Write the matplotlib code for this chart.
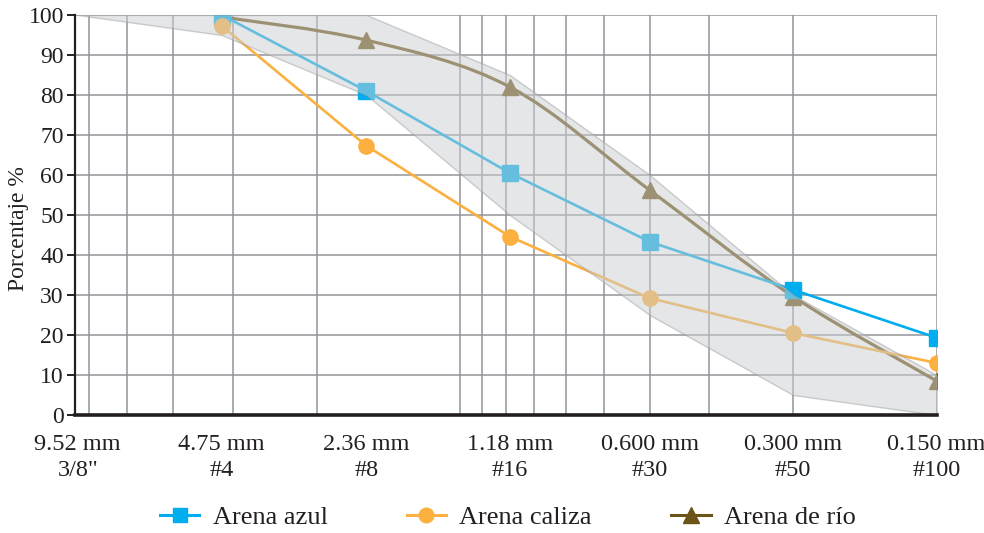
import numpy as np
import matplotlib
matplotlib.use("Agg")
import matplotlib.pyplot as plt
from matplotlib.path import Path
from matplotlib.patches import PathPatch
from matplotlib.lines import Line2D
from matplotlib.ticker import FixedLocator

plt.rcParams['font.family'] = ['Liberation Serif', 'DejaVu Serif']

# sieve sizes (mm) and labels
sieve = [9.52, 4.75, 2.36, 1.18, 0.600, 0.300, 0.150]
sieve_labels = ['9.52 mm\n3/8"', '4.75 mm\n#4', '2.36 mm\n#8', '1.18 mm\n#16',
                '0.600 mm\n#30', '0.300 mm\n#50', '0.150 mm\n#100']

# passing percentages (no value at 9.52 mm)
sand_x = [4.75, 2.36, 1.18, 0.600, 0.300, 0.150]
arena_azul = [100, 81, 60.5, 43.3, 31.3, 19.3]
arena_caliza = [97.3, 67.3, 44.6, 29.2, 20.5, 13.0]
arena_rio = [99.5, 93.7, 82.0, 56.2, 29.6, 8.5]

# gradation limits (shaded band)
band_upper = [100, 100, 100, 85, 60, 30, 10]
band_lower = [100, 95, 80, 50, 25, 5, 0]

c_azul = '#00AEEF'
c_caliza = '#FBB040'
c_rio = '#6B5417'
c_grid = '#939598'
c_text = '#231F20'

fig = plt.figure(figsize=(9.84, 5.33), dpi=100)
ax = fig.add_axes([0.0762, 0.2214, 0.8757, 0.7505])

ax.set_xscale('log')
ax.set_xlim(9.65, 0.15)
ax.set_ylim(0, 100)

# vertical log grid (0.15 .. 1.5 .. 9 mm)
grid_x = [0.15 * k for k in range(1, 11)] + [1.5 * k for k in range(2, 7)]
ax.vlines(grid_x, 0, 100, colors=c_grid, lw=1.1, zorder=1.5)

# river sand: smoothed line (bezier through the points, computed in log-x space)
u = np.log10(sand_x)
y = np.array(arena_rio, dtype=float)
pts = np.column_stack([u, y])
n = len(pts)
verts = [pts[0]]
codes = [Path.MOVETO]
for i in range(n - 1):
    p_prev = pts[max(i - 1, 0)]
    p_next2 = pts[min(i + 2, n - 1)]
    c1 = pts[i] + (pts[i + 1] - p_prev) / 6.0
    c2 = pts[i + 1] - (p_next2 - pts[i]) / 6.0
    verts += [c1, c2, pts[i + 1]]
    codes += [Path.CURVE4] * 3
verts = np.array(verts)
verts[:, 0] = 10 ** verts[:, 0]
ax.add_patch(PathPatch(Path(verts, codes), facecolor='none', edgecolor=c_rio,
                       lw=2.3, zorder=3))
ax.plot(sand_x, arena_rio, ls='none', marker='^', ms=12, color=c_rio, zorder=3)

ax.plot(sand_x, arena_azul, '-', marker='s', ms=11.5, lw=1.9, color=c_azul, zorder=3.1)
ax.plot(sand_x, arena_caliza, '-', marker='o', ms=11, lw=1.9, color=c_caliza, zorder=3.2)

# gradation band drawn over the curves
ax.fill_between(sieve, band_lower, band_upper, facecolor='#CDCED0', edgecolor='#A0A2A5',
                lw=1.0, alpha=0.5, zorder=4)

ax.xaxis.set_major_locator(FixedLocator(sieve))
ax.xaxis.set_minor_locator(FixedLocator([]))
ax.set_xticklabels(sieve_labels, linespacing=1.3)
ax.set_yticks(np.arange(0, 101, 10))
ax.grid(True, which='major', axis='y', color=c_grid, lw=1.1, zorder=1)
ax.set_axisbelow(True)

ax.tick_params(axis='x', which='both', length=0, pad=14, labelsize=17.5, labelcolor=c_text)
ax.tick_params(axis='y', which='major', length=6, width=1.4, color=c_text,
               labelsize=17, labelcolor=c_text, pad=2)

for s in ['top', 'right']:
    ax.spines[s].set_visible(False)
ax.spines['left'].set_color(c_text)
ax.spines['left'].set_linewidth(1.6)
ax.spines['left'].set_zorder(5)
ax.spines['bottom'].set_color(c_text)
ax.spines['bottom'].set_linewidth(2.6)
ax.spines['bottom'].set_zorder(5)

ax.set_ylabel('Porcentaje %', fontsize=17, color=c_text)
ax.yaxis.set_label_coords(-0.053, 0.465)

handles = [
    Line2D([], [], color=c_azul, marker='s', ms=10.5, lw=2.2),
    Line2D([], [], color=c_caliza, marker='o', ms=10.5, lw=2.2),
    Line2D([], [], color=c_rio, marker='^', ms=11.5, lw=2.2),
]
fig.legend(handles, ['Arena azul', 'Arena caliza', 'Arena de río'], loc='center',
           bbox_to_anchor=(0.516, 0.030), ncol=3, frameon=False, fontsize=19,
           handlelength=1.5, handletextpad=0.5, columnspacing=3.0, labelcolor=c_text,
           borderaxespad=0, borderpad=0)

fig.savefig('out.png', dpi=100)
